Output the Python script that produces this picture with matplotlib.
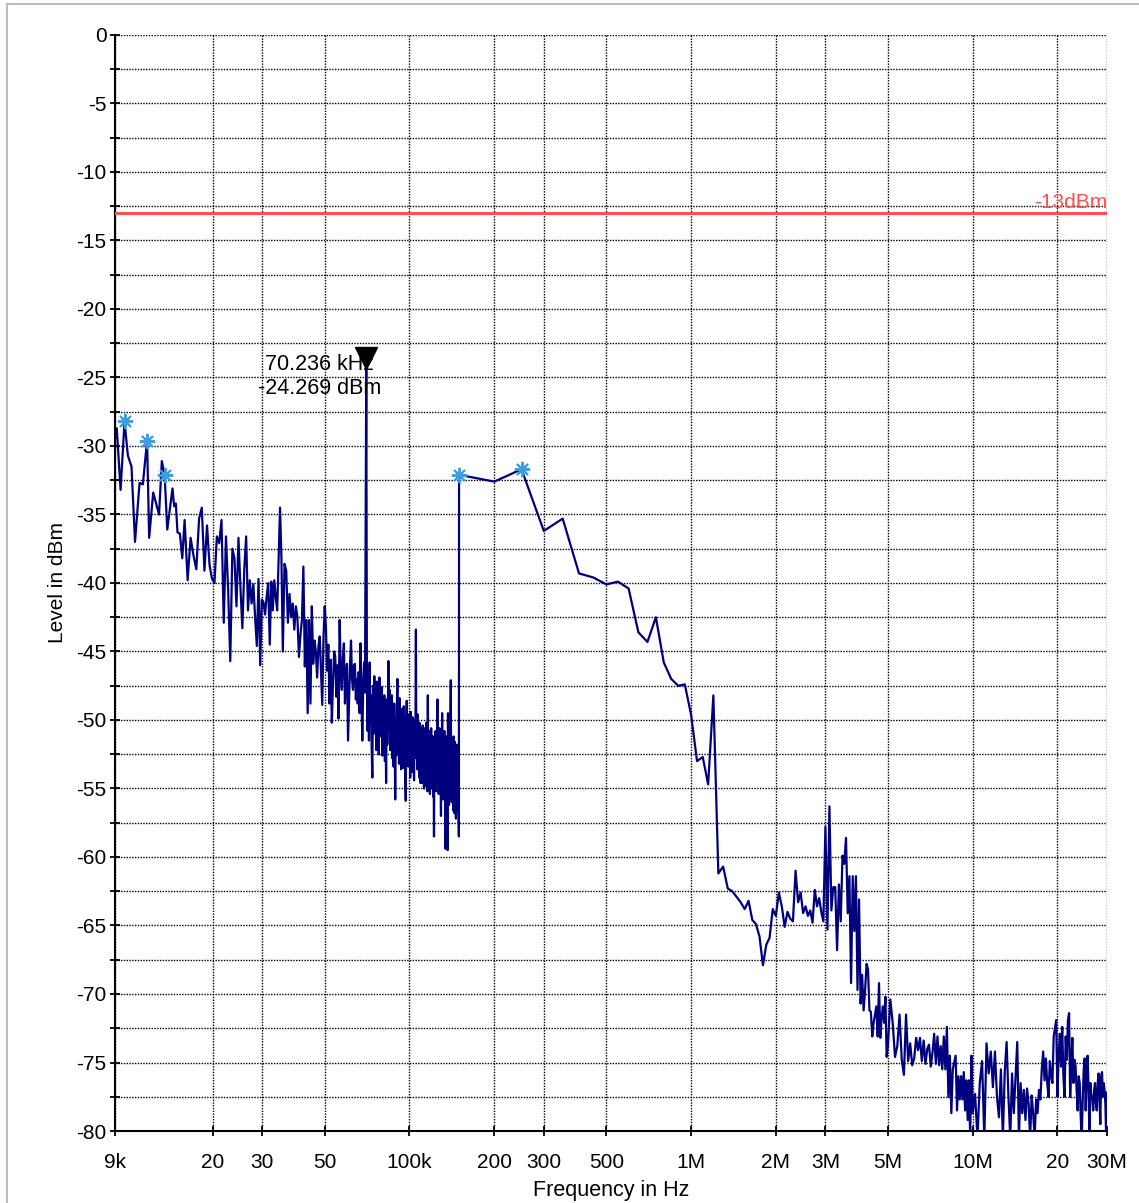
import numpy as np
import matplotlib
matplotlib.use("Agg")
import matplotlib.pyplot as plt
import matplotlib.transforms as mtransforms
from matplotlib.lines import Line2D
from matplotlib.ticker import NullLocator

plt.rcParams['font.family'] = ['Liberation Sans', 'DejaVu Sans']

# ---- 9 kHz .. 150 kHz band (frequencies in kHz, levels in dBm) ----
# first stretch, read point by point
freq_a_khz = [9.0, 9.13, 9.42, 9.73, 10.0, 10.3, 10.6, 11.0, 11.3, 11.7, 11.9,
              12.3, 12.9, 13.2, 13.5, 13.8, 14.4, 14.6, 14.8, 15.0, 15.3, 15.6]
level_a = [-29.5, -28.7, -33.2, -28.2, -30.7, -31.5, -37.0, -32.7, -32.8, -29.6, -36.7,
           -33.4, -35.0, -31.1, -32.1, -36.1, -33.1, -34.4, -34.2, -36.3, -36.4, -38.2]

# following stretches are uniform sweeps: (start, stop) in kHz
sweep_b_khz = (15.9, 35.1)
level_b = [-35.4, -39.8, -36.7, -38.0, -39.0, -35.3, -34.5, -39.1, -35.8, -38.7,
           -39.7, -40.0, -36.6, -37.1, -35.4, -42.9, -36.6, -40.5, -45.7, -37.5,
           -38.2, -41.7, -36.7, -40.3, -43.3, -39.0, -36.6, -42.0, -39.8, -41.5,
           -40.1, -42.5, -44.6, -39.7, -46.0, -41.2, -41.4, -42.3, -41.0, -40.0,
           -44.5, -39.9, -42.0, -39.8, -41.0, -42.0, -38.3, -34.5, -38.2]

sweep_c_khz = (35.5, 69.5)
level_c = [-45.0, -38.6, -39.1, -42.9, -40.8, -42.5, -41.5, -43.4, -41.7, -42.5,
           -45.4, -43.8, -42.7, -38.8, -46.1, -42.7, -49.5, -42.7, -48.8, -41.7,
           -45.9, -44.2, -45.0, -46.9, -44.6, -43.9, -46.4, -48.9, -44.0, -41.7,
           -43.2, -46.4, -44.5, -48.8, -45.6, -50.2, -47.3, -45.0, -45.4, -48.3,
           -46.0, -49.9, -42.7, -46.5, -47.8, -45.5, -44.4, -48.8, -46.5, -45.9,
           -51.5, -48.8, -46.0, -44.2, -47.0, -47.8, -46.0, -45.9, -48.5, -47.0,
           -48.8, -46.5, -49.5, -44.4, -48.0, -51.5, -47.5, -45.8, -48.0]

# marker peak
marker_freq_khz = 70.236
marker_level = -24.269

sweep_d_khz = (70.6, 149.8)
level_d = [-47.0, -50.8, -46.2, -51.5, -45.8, -49.5, -48.2, -52.0, -54.2, -47.5,
           -51.0, -46.8, -50.5, -48.8, -52.2, -47.2, -50.0, -49.0, -52.5, -46.9,
           -51.2, -48.0, -50.8, -47.6, -52.6, -49.5, -51.0, -48.2, -53.0, -49.8,
           -54.6, -48.5, -51.8, -49.2, -45.7, -50.5, -47.8, -52.2, -49.0, -51.5,
           -48.2, -52.8, -49.6, -53.4, -48.8, -51.6, -55.8, -50.2, -52.6, -49.0,
           -47.0, -51.8, -49.5, -53.2, -48.4, -52.0, -50.4, -53.6, -49.2, -52.4,
           -50.0, -53.5, -49.0, -52.2, -50.6, -54.0, -55.9, -50.2, -48.6, -52.8,
           -50.2, -53.4, -49.6, -52.6, -51.0, -54.2, -49.4, -52.5, -50.6, -53.8,
           -49.8, -53.0, -51.2, -54.4, -50.0, -52.6, -50.8, -43.4, -52.8, -50.4,
           -53.6, -49.6, -52.4, -51.0, -54.2, -50.2, -53.0, -54.6, -50.6, -53.8,
           -51.2, -54.6, -50.4, -53.4, -51.8, -55.0, -50.6, -53.6, -51.4, -54.8,
           -50.2, -53.2, -51.6, -55.2, -48.2, -53.8, -51.0, -54.6, -50.8, -55.4,
           -51.6, -54.0, -50.6, -55.0, -52.2, -53.8, -51.2, -55.6, -52.0, -58.5,
           -51.2, -54.6, -52.6, -50.8, -55.2, -52.0, -53.8, -50.4, -48.5, -54.5,
           -51.4, -55.4, -52.6, -50.6, -55.0, -52.2, -54.2, -57.0, -51.0, -54.8,
           -49.5, -54.4, -52.4, -55.8, -51.8, -53.6, -50.8, -55.2, -52.8, -59.4,
           -52.4, -55.6, -51.2, -54.6, -53.0, -59.5, -49.5, -54.8, -52.2, -56.2,
           -51.6, -55.4, -52.8, -50.6, -47.1, -55.8, -52.4, -56.0, -51.8, -55.0,
           -52.6, -56.6, -51.2, -55.4, -53.0, -56.8, -51.6, -55.8, -52.4, -57.2,
           -52.8, -55.6, -51.8, -56.6, -53.4, -55.2, -52.2, -56.8, -58.5]

# ---- 150 kHz .. 30 MHz band (uniform sweeps, MHz) ----
sweep_e_mhz = (0.15, 2.0)
level_e = [-32.1, -32.6, -31.7, -36.2, -35.3, -39.3, -39.6, -40.1, -39.9, -40.4,
           -43.6, -44.3, -42.5, -45.8, -47.0, -47.5, -47.4, -49.6, -53.0, -52.7,
           -54.7, -48.2, -61.2, -60.7, -62.3, -62.5, -62.9, -63.3, -63.8, -63.2,
           -64.6, -64.9, -65.8, -67.9, -66.4, -65.9, -63.8, -64.3]

sweep_f_mhz = (2.05, 5.0)
level_f = [-62.6, -63.6, -65.1, -64.0, -64.5, -64.7, -61.0, -63.3, -62.6, -64.1,
           -63.6, -64.3, -63.9, -64.8, -62.4, -63.6, -63.0, -64.0, -64.7, -57.8,
           -65.3, -56.3, -63.9, -62.2, -62.2, -66.8, -62.0, -64.7, -59.9, -60.5,
           -58.6, -64.1, -61.4, -69.2, -61.4, -65.4, -61.4, -69.7, -63.1, -70.7,
           -68.6, -71.2, -69.7, -67.8, -68.2, -71.2, -71.3, -73.1, -72.1, -71.5,
           -70.9, -73.1, -69.2, -73.2, -71.7, -70.9, -72.1, -70.2, -74.6, -73.8]

sweep_g_mhz = (5.1, 10.0)
level_g = [-70.4, -72.1, -74.6, -73.8, -71.5, -74.8, -75.9, -71.5, -74.9, -73.6,
           -75.2, -74.7, -73.2, -74.1, -73.2, -74.9, -73.4, -75.1, -74.0, -73.7,
           -75.3, -74.3, -72.9, -75.1, -73.1, -75.2, -73.8, -75.5, -73.1, -75.5,
           -72.4, -77.5, -74.5, -78.7, -75.5, -75.0, -74.5, -78.5, -76.0, -77.7,
           -76.0, -77.7, -75.7, -78.5, -76.3, -79.2, -76.3, -80.5, -74.5, -78.7]

sweep_h_mhz = (10.2, 30.0)
level_h = [-77.3, -80.5, -76.5, -74.9, -80.5, -73.6, -75.8, -74.2, -76.8, -74.2,
           -77.5, -79.0, -75.5, -80.5, -75.7, -73.5, -77.5, -80.5, -75.8, -78.7,
           -76.0, -73.5, -80.5, -76.5, -78.7, -77.0, -79.2, -76.9, -78.0, -80.5,
           -77.4, -78.7, -80.5, -77.7, -78.7, -77.0, -77.7, -75.5, -74.2, -76.3,
           -74.7, -76.5, -77.5, -74.9, -76.0, -76.5, -73.1, -72.5, -71.9, -77.5,
           -74.5, -72.9, -75.3, -72.4, -76.0, -77.5, -73.1, -74.8, -71.9, -71.4,
           -77.5, -75.0, -73.2, -76.5, -74.8, -75.3, -77.0, -78.5, -76.0, -76.5,
           -79.0, -80.5, -77.7, -75.5, -74.7, -78.5, -76.0, -74.5, -77.0, -80.5,
           -76.5, -77.5, -77.5, -78.5, -77.0, -76.5, -78.0, -78.5, -76.5, -75.8,
           -77.5, -79.5, -76.0, -75.7, -77.5, -76.5, -77.0, -78.0, -80.5, -77.2]

# peak search results (blue stars)
peak_freqs_khz = [9.73, 11.7, 13.5, 150.0, 250.0]
peak_levels = [-28.2, -29.6, -32.1, -32.1, -31.7]

limit_level = -13
limit_label = '-13dBm'

xtick_hz = [9e3, 2e4, 3e4, 5e4, 1e5, 2e5, 3e5, 5e5, 1e6, 2e6, 3e6, 5e6, 1e7, 2e7, 3e7]
xtick_labels = ['9k', '20', '30', '50', '100k', '200', '300', '500',
                '1M', '2M', '3M', '5M', '10M', '20', '30M']
ytick_values = list(range(-80, 1, 5))


def sweep(rng, levels, scale):
    return np.linspace(rng[0], rng[1], len(levels)) * scale


freq = np.concatenate([
    np.array(freq_a_khz) * 1e3,
    sweep(sweep_b_khz, level_b, 1e3),
    sweep(sweep_c_khz, level_c, 1e3),
    [marker_freq_khz * 1e3],
    sweep(sweep_d_khz, level_d, 1e3),
    sweep(sweep_e_mhz, level_e, 1e6),
    sweep(sweep_f_mhz, level_f, 1e6),
    sweep(sweep_g_mhz, level_g, 1e6),
    sweep(sweep_h_mhz, level_h, 1e6),
])
level = np.concatenate([level_a, level_b, level_c, [marker_level], level_d,
                        level_e, level_f, level_g, level_h])

fig = plt.figure(figsize=(11.39, 12.03), dpi=100)
ax = fig.add_axes([0.10097, 0.05985, 0.87094, 0.91106])

# light grey frame of the window
fig.add_artist(Line2D([0.0062, 0.0062], [0, 0.9967], color='#bdbdbd', lw=1.5))
fig.add_artist(Line2D([0.0062, 1.0], [0.9967, 0.9967], color='#bdbdbd', lw=1.5))

ax.set_xscale('log')
ax.set_xlim(9e3, 3e7)
ax.set_ylim(-80, 0)

ax.plot(freq, level, color='#00007f', lw=1.6, zorder=3)

# limit line
ax.axhline(limit_level, color='#ff4f4f', lw=2.2, zorder=4)
ax.annotate(limit_label, xy=(3e7, limit_level), xytext=(0, 1), textcoords='offset pixels',
            ha='right', va='bottom', color='#ff4f4f', fontsize=15)

# peak stars
ax.plot(np.array(peak_freqs_khz) * 1e3, peak_levels, ls='none', marker=(8, 2, 0),
        ms=11, mew=1.4, mec='#3d9de3', zorder=5)

# marker
mk_trans = mtransforms.offset_copy(ax.transData, fig=fig, x=0, y=9, units='dots')
ax.plot([marker_freq_khz * 1e3], [marker_level], marker='v', ms=16, color='black',
        transform=mk_trans, zorder=6, clip_on=False)
ax.annotate(f'{marker_freq_khz:.3f} kHz\n{marker_level:.3f} dBm',
            xy=(marker_freq_khz * 1e3, marker_level), xytext=(-47, -9),
            textcoords='offset pixels', ha='center', va='center',
            fontsize=15.5, zorder=7)

# axes styling
ax.set_xticks(xtick_hz)
ax.set_xticklabels(xtick_labels)
ax.xaxis.set_minor_locator(NullLocator())
ax.set_yticks(ytick_values)
ax.set_yticklabels([str(v) for v in ytick_values])
ax.set_yticks([v - 2.5 for v in ytick_values[1:]], minor=True)

ax.tick_params(which='both', direction='inout', length=7.2, width=1.3, labelsize=15)
ax.tick_params(axis='x', pad=12)
ax.tick_params(axis='y', pad=2.5)

ax.grid(which='both', color='black', lw=1.0, linestyle=(0, (1, 1)))
ax.set_axisbelow(True)

for side in ['top', 'right']:
    ax.spines[side].set_visible(False)
for side in ['left', 'bottom']:
    ax.spines[side].set_linewidth(1.5)

ax.set_xlabel('Frequency in Hz', fontsize=15.5, labelpad=6)
ax.set_ylabel('Level in dBm', fontsize=15, labelpad=7)

fig.savefig('out.png', dpi=100)
